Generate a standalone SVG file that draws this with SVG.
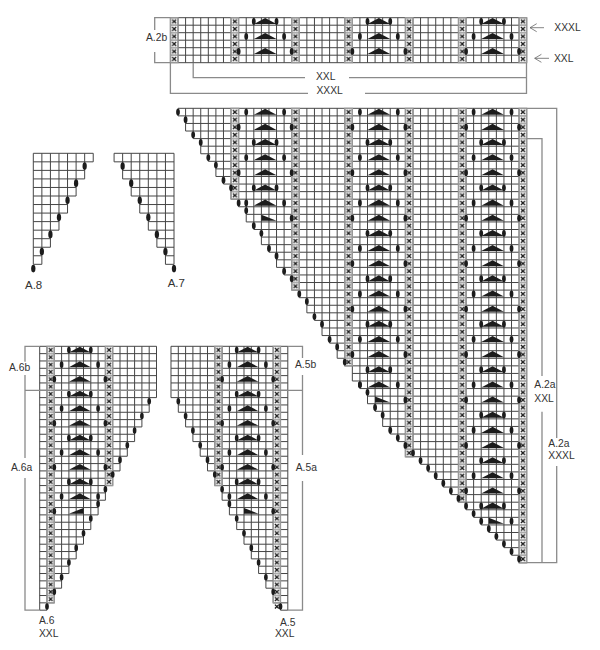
<svg xmlns="http://www.w3.org/2000/svg" width="600" height="650" viewBox="0 0 600 650">
<style>
.g{fill:none;stroke:#454545;stroke-width:1;vector-effect:non-scaling-stroke}
.xc{fill:url(#xp);stroke:#999;stroke-width:1.3;vector-effect:non-scaling-stroke}
.b{fill:none;stroke:#8a8a8a;stroke-width:1.3}
.a{fill:none;stroke:#666;stroke-width:.8}
.k{fill:#1c1c1c}
text{font-family:"Liberation Sans",Arial,sans-serif;font-size:10.3px;fill:#333}
.l{font-size:11.5px}
</style>
<defs>
<pattern id="xp" width="1" height="1" patternUnits="userSpaceOnUse">
<rect width="1" height="1" fill="#fff" stroke="#999" stroke-width=".2"/>
<path d="M.24 .24L.76 .76M.76 .24L.24 .76" stroke="#1c1c1c" stroke-width=".18" fill="none"/>
</pattern>
<ellipse id="d" class="k" rx=".25" ry=".45"/>
<polygon id="t" class="k" points="0 .85 1.5 .05 3 .85"/>
<polygon id="h" class="k" points="3 .05 3 .85 5 .85"/>
<g id="r0"><use href="#t" x="2"/><use href="#d" x="1" y=".5"/><use href="#d" x="6" y=".5"/></g>
<g id="r2"><use href="#t" x="2"/><use href="#d" x="0" y=".5"/><use href="#d" x="7" y=".5"/></g>
<g id="r4"><use href="#t" x="2"/><use href="#d" x="2" y=".5"/><use href="#d" x="5" y=".5"/></g>
<g id="m"><use href="#r0"/><use href="#r2" y="2"/><use href="#r4" y="4"/></g>
<g id="a6body">
<path class="g" d="M0 0H16M0 1H16M0 2H16M0 3H16M0 4H16M0 5H16M0 6H16M0 7H16M0 8H15M0 9H15M0 10H14M0 11H14M0 12H13M0 13H13M0 14H12M0 15H12M0 16H11M0 17H11M0 18H10M0 19H10M0 20H9M0 21H9M0 22H8M0 23H8M0 24H7M0 25H7M0 26H6M0 27H6M0 28H5M0 29H5M0 30H4M0 31H4M0 32H3M0 33H3M0 34H2M0 35H2M0 36H1M0 0V36M1 0V36M2 0V35M3 0V33M4 0V31M5 0V29M6 0V27M7 0V25M8 0V23M9 0V21M10 0V19M11 0V17M12 0V15M13 0V13M14 0V11M15 0V9M16 0V7"/>
<rect class="xc" x="1" y="0" width="1" height="35"/>
<rect class="xc" x="9" y="0" width="1" height="19"/>
<use href="#r4" x="2"/><use href="#m" x="2" y="2"/><use href="#m" x="2" y="8"/><use href="#m" x="2" y="14"/><use href="#r0" x="2" y="20"/>
<polygon class="k" points="6 22.05 6 22.85 4 22.85"/><use href="#d" x="2" y="22.5"/>
<use href="#d" x="15" y="7.5"/><use href="#d" x="14" y="9.5"/><use href="#d" x="13" y="11.5"/><use href="#d" x="12" y="13.5"/><use href="#d" x="11" y="15.5"/><use href="#d" x="10" y="17.5"/><use href="#d" x="9" y="19.5"/><use href="#d" x="8" y="21.5"/><use href="#d" x="7" y="23.5"/><use href="#d" x="6" y="25.5"/><use href="#d" x="5" y="27.5"/><use href="#d" x="4" y="29.5"/><use href="#d" x="3" y="31.5"/><use href="#d" x="2" y="33.5"/><use href="#d" x="1" y="35.5"/>
</g>
<g id="a8body">
<path class="g" d="M0 0H7M0 1H7M0 2H6M0 3H6M0 4H5M0 5H5M0 6H4M0 7H4M0 8H3M0 9H3M0 10H2M0 11H2M0 12H1M0 13H1M0 0V13M1 0V13M2 0V11M3 0V9M4 0V7M5 0V5M6 0V3M7 0V1"/>
<use href="#d" x="6" y="1.5"/><use href="#d" x="5" y="3.5"/><use href="#d" x="4" y="5.5"/><use href="#d" x="3" y="7.5"/><use href="#d" x="2" y="9.5"/><use href="#d" x="1" y="11.5"/><use href="#d" x="0" y="13.5"/>
</g>
</defs>
<rect width="600" height="650" fill="#fff"/>

<g id="a2b" transform="translate(178,17.7) scale(7.58,7.5)">
<path class="g" d="M-1 0H46M-1 1H46M-1 2H46M-1 3H46M-1 4H46M-1 5H46M-1 6H46M-1 0V6M0 0V6M1 0V6M2 0V6M3 0V6M4 0V6M5 0V6M6 0V6M7 0V6M8 0V6M9 0V6M10 0V6M11 0V6M12 0V6M13 0V6M14 0V6M15 0V6M16 0V6M17 0V6M18 0V6M19 0V6M20 0V6M21 0V6M22 0V6M23 0V6M24 0V6M25 0V6M26 0V6M27 0V6M28 0V6M29 0V6M30 0V6M31 0V6M32 0V6M33 0V6M34 0V6M35 0V6M36 0V6M37 0V6M38 0V6M39 0V6M40 0V6M41 0V6M42 0V6M43 0V6M44 0V6M45 0V6M46 0V6"/>
<rect class="xc" x="-1" y="0" width="1" height="6"/><rect class="xc" x="7" y="0" width="1" height="6"/><rect class="xc" x="15" y="0" width="1" height="6"/><rect class="xc" x="22" y="0" width="1" height="6"/><rect class="xc" x="30" y="0" width="1" height="6"/><rect class="xc" x="37" y="0" width="1" height="6"/><rect class="xc" x="45" y="0" width="1" height="6"/>
<use href="#r4" x="8"/><use href="#r0" x="8" y="2"/><use href="#r2" x="8" y="4"/>
<use href="#r4" x="23"/><use href="#r0" x="23" y="2"/><use href="#r2" x="23" y="4"/>
<use href="#r4" x="38"/><use href="#r0" x="38" y="2"/><use href="#r2" x="38" y="4"/>
</g>

<g id="a2a" transform="translate(178,108.3) scale(7.58,7.575)">
<path class="g" d="M0 0H46M0 1H46M1 2H46M1 3H46M2 4H46M3 5H46M3 6H46M4 7H46M5 8H46M5 9H46M6 10H46M7 11H46M7 12H46M8 13H46M9 14H46M9 15H46M10 16H46M11 17H46M11 18H46M12 19H46M13 20H46M13 21H46M14 22H46M15 23H46M15 24H46M16 25H46M17 26H46M17 27H46M18 28H46M19 29H46M19 30H46M20 31H46M21 32H46M21 33H46M22 34H46M23 35H46M23 36H46M24 37H46M25 38H46M25 39H46M26 40H46M27 41H46M27 42H46M28 43H46M29 44H46M30 45H46M30 46H46M32 47H46M33 48H46M34 49H46M35 50H46M36 51H46M37 52H46M38 53H46M39 54H46M40 55H46M41 56H46M42 57H46M43 58H46M44 59H46M45 60H46"/>
<path class="g" d="M0 0V1M1 0V3M2 0V4M3 0V6M4 0V7M5 0V9M6 0V10M7 0V12M8 0V13M9 0V15M10 0V16M11 0V18M12 0V19M13 0V21M14 0V22M15 0V24M16 0V25M17 0V27M18 0V28M19 0V30M20 0V31M21 0V33M22 0V34M23 0V36M24 0V37M25 0V39M26 0V40M27 0V42M28 0V43M29 0V44M30 0V46M31 0V46M32 0V47M33 0V48M34 0V49M35 0V50M36 0V51M37 0V52M38 0V53M39 0V54M40 0V55M41 0V56M42 0V57M43 0V58M44 0V59M45 0V60M46 0V60"/>
<rect class="xc" x="7" y="0" width="1" height="12"/><rect class="xc" x="15" y="0" width="1" height="24"/><rect class="xc" x="22" y="0" width="1" height="34"/><rect class="xc" x="30" y="0" width="1" height="46"/><rect class="xc" x="37" y="0" width="1" height="52"/><rect class="xc" x="45" y="0" width="1" height="60"/>
<use href="#m" x="8"/><use href="#m" x="8" y="6"/><use href="#r0" x="8" y="12"/><use href="#h" x="8" y="14"/><use href="#d" x="15" y="14.5"/>
<use href="#m" x="23"/><use href="#m" x="23" y="6"/><use href="#m" x="23" y="12"/><use href="#m" x="23" y="18"/><use href="#m" x="23" y="24"/><use href="#m" x="23" y="30"/><use href="#r0" x="23" y="36"/><use href="#h" x="23" y="38"/><use href="#d" x="30" y="38.5"/>
<use href="#m" x="38"/><use href="#m" x="38" y="6"/><use href="#m" x="38" y="12"/><use href="#m" x="38" y="18"/><use href="#m" x="38" y="24"/><use href="#m" x="38" y="30"/><use href="#m" x="38" y="36"/><use href="#m" x="38" y="42"/><use href="#m" x="38" y="48"/><use href="#h" x="38" y="54"/><use href="#d" x="44" y="54.5"/>
<use href="#d" x="0" y=".5"/><use href="#d" x="1" y="1.5"/><use href="#d" x="2" y="3.5"/><use href="#d" x="3" y="4.5"/><use href="#d" x="4" y="6.5"/><use href="#d" x="5" y="7.5"/><use href="#d" x="6" y="9.5"/><use href="#d" x="7" y="10.5"/><use href="#d" x="8" y="12.5"/><use href="#d" x="9" y="13.5"/><use href="#d" x="10" y="15.5"/><use href="#d" x="11" y="16.5"/><use href="#d" x="12" y="18.5"/><use href="#d" x="13" y="19.5"/><use href="#d" x="14" y="21.5"/><use href="#d" x="15" y="22.5"/><use href="#d" x="16" y="24.5"/><use href="#d" x="17" y="25.5"/><use href="#d" x="18" y="27.5"/><use href="#d" x="19" y="28.5"/><use href="#d" x="20" y="30.5"/><use href="#d" x="21" y="31.5"/><use href="#d" x="22" y="33.5"/><use href="#d" x="24" y="36.5"/><use href="#d" x="25" y="37.5"/><use href="#d" x="26" y="39.5"/><use href="#d" x="27" y="40.5"/><use href="#d" x="28" y="42.5"/><use href="#d" x="29" y="43.5"/><use href="#d" x="30" y="44.5"/><use href="#d" x="31" y="45.5"/><use href="#d" x="32" y="46.5"/><use href="#d" x="33" y="47.5"/><use href="#d" x="34" y="48.5"/><use href="#d" x="35" y="49.5"/><use href="#d" x="36" y="50.5"/><use href="#d" x="37" y="51.5"/><use href="#d" x="38" y="52.5"/><use href="#d" x="39" y="53.5"/><use href="#d" x="40" y="54.5"/><use href="#d" x="41" y="55.5"/><use href="#d" x="42" y="56.5"/><use href="#d" x="43" y="57.5"/><use href="#d" x="44" y="58.5"/><use href="#d" x="45" y="59.5"/>
</g>

<g id="a8" transform="translate(33.3,153.3) scale(8.56,8.54)"><use href="#a8body"/></g>
<g id="a7" transform="translate(174,153.3) scale(-8.56,8.54)"><use href="#a8body"/></g>
<g id="a6" transform="translate(39.7,346.3) scale(7.3,7.33)"><use href="#a6body"/></g>
<g id="a5" transform="translate(287.8,346.3) scale(-7.3,7.33)"><use href="#a6body"/><path d="M1.24 35.24L1.76 35.76M1.76 35.24L1.24 35.76" stroke="#1c1c1c" stroke-width=".18" fill="none"/></g>

<g id="connectors">
<path class="b" d="M170.4 17.7H154.7V30M154.7 52V62.7H170.4"/>
<path class="b" d="M193.2 62.7V77.7H305M349 77.7H526.5"/>
<path class="b" d="M170.4 62.7V93.3H308M365 93.3H526.5V62.7"/>
<path class="a" d="M544 27.7H530M536.7 23.7L530 27.7L536.7 31.7"/>
<path class="a" d="M549 58.3H534.7M541.4 54.3L534.7 58.3L541.4 62.3"/>
<path class="b" d="M526.5 108.3H556.7V438M556.7 466V562.7H526.5"/>
<path class="b" d="M526.5 138.7H542V376M542 411.7V562.7"/>
<path class="b" d="M39.7 346.3H25V361.7M25 375V458M25 478V610.2H39.7M25 390.3H156.5"/>
<path class="b" d="M287.8 346.3H302.5V358M302.5 375V455M302.5 481V610.2H287.8M171 390.3H302.5"/>
</g>

<g id="labels">
<text x="146" y="41">A.2b</text>
<text x="316" y="79.5">XXL</text>
<text x="316.5" y="94">XXXL</text>
<text x="554.3" y="31.3">XXXL</text>
<text x="554" y="62.3">XXL</text>
<text class="l" x="25" y="289.3">A.8</text>
<text class="l" x="167.7" y="287.3">A.7</text>
<text x="9" y="370.7">A.6b</text>
<text x="11" y="471">A.6a</text>
<text x="39" y="624.3">A.6</text>
<text x="39" y="637">XXL</text>
<text x="295" y="368.3">A.5b</text>
<text x="295.7" y="471">A.5a</text>
<text x="280" y="626">A.5</text>
<text x="275" y="637">XXL</text>
<text x="534.3" y="388">A.2a</text>
<text x="534.3" y="401.7">XXL</text>
<text x="548.3" y="446.7">A.2a</text>
<text x="548.3" y="459.3">XXXL</text>
</g>
</svg>
